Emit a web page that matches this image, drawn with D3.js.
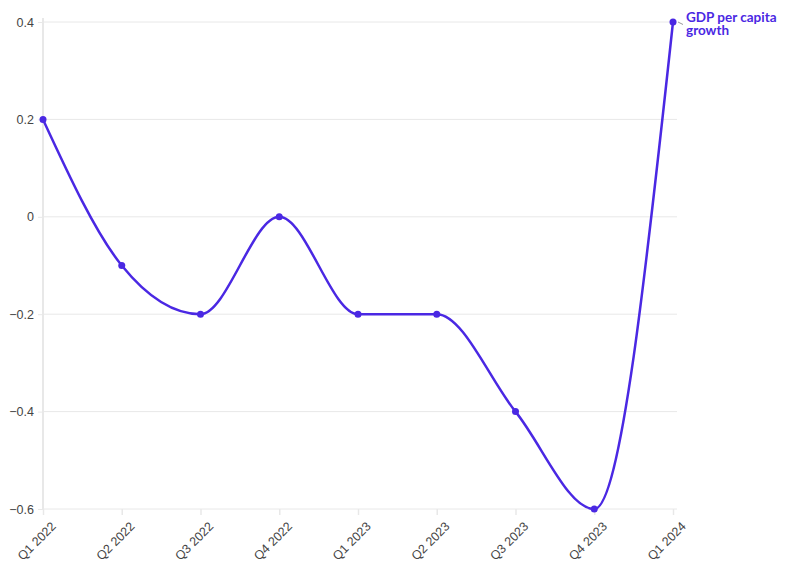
<!DOCTYPE html>
<html><head><meta charset="utf-8">
<script src="https://cdn.jsdelivr.net/npm/d3@7"></script>
<style>body{margin:0;background:#fff;} svg{display:block;font-family:"Source Sans Pro",Lato,"Noto Sans",sans-serif;}</style>
</head><body>
<svg id="c" width="796" height="575"></svg>
<script>
const categories = ["Q1 2022","Q2 2022","Q3 2022","Q4 2022","Q1 2023","Q2 2023","Q3 2023","Q4 2023","Q1 2024"];
const values = [0.2,-0.1,-0.2,0,-0.2,-0.2,-0.4,-0.6,0.4];
const yTicks = [-0.6,-0.4,-0.2,0,0.2,0.4];
const seriesName = ["GDP per capita","growth"];
const color = "#4a28e3";

const svg = d3.select("#c");
const x = d3.scalePoint().domain(categories).range([43,673]);
const y = d3.scaleLinear().domain([-0.6,0.4]).range([509,22]);

svg.append("g").selectAll("line").data(yTicks).join("line")
  .attr("x1",43).attr("x2",677).attr("y1",d=>y(d)).attr("y2",d=>y(d))
  .attr("stroke","#e8e8e8").attr("stroke-width",1);
svg.append("line").attr("x1",43).attr("x2",43).attr("y1",y(0.4)-4).attr("y2",y(-0.6))
  .attr("stroke","#e8e8e8").attr("stroke-width",2);

const yAxis = svg.append("g").attr("transform","translate(43,0)")
  .call(d3.axisLeft(y).tickValues(yTicks).tickSize(5).tickPadding(4).tickFormat(d=>d===0?"0":d3.format("")(d)));
yAxis.select(".domain").remove();
yAxis.selectAll("line").attr("stroke","#e8e8e8");
yAxis.selectAll("text").attr("fill","#444").attr("font-size",12.5);

const xAxis = svg.append("g").attr("transform","translate(0,509)")
  .call(d3.axisBottom(x).tickSize(6).tickPadding(4));
xAxis.select(".domain").remove();
xAxis.selectAll("line").attr("stroke","#e8e8e8").attr("stroke-width",1.5);
xAxis.selectAll("text").attr("fill","#444").attr("font-size",12.5)
  .attr("text-anchor","end").attr("dy","0.35em")
  .attr("transform","translate(3,8) rotate(-45)");

const line = d3.line().x((d,i)=>x(categories[i])).y(d=>y(d)).curve(d3.curveMonotoneX);
svg.append("path").datum(values).attr("d",line).attr("fill","none")
  .attr("stroke",color).attr("stroke-width",2.5);
svg.append("g").selectAll("circle").data(values).join("circle")
  .attr("cx",(d,i)=>x(categories[i])).attr("cy",d=>y(d)).attr("r",3.5).attr("fill",color);

const lx = x(categories[categories.length-1]), ly = y(values[values.length-1]);
svg.append("line").attr("x1",lx+5).attr("y1",ly).attr("x2",lx+10).attr("y2",ly+2.5)
  .attr("stroke","#999").attr("stroke-width",1);
const t = svg.append("text").attr("x",lx+13).attr("y",ly).attr("fill",color)
  .attr("font-size",13.5).attr("font-weight","bold");
seriesName.forEach((s,i)=>t.append("tspan").attr("x",lx+13).attr("dy",i===0?0:13).text(s));
</script>
</body></html>
